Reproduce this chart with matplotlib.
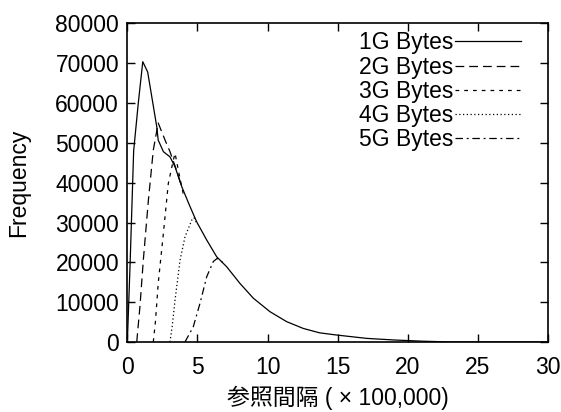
import matplotlib
matplotlib.use("Agg")
import matplotlib.pyplot as plt

plt.rcParams['font.family'] = ['Liberation Sans', 'Noto Sans CJK JP']

# data (x in units of 100,000)
x_1g = [0, 0.2, 0.45, 0.78, 1.1, 1.45, 2.1, 2.2, 2.57, 3.04, 3.4, 3.88, 4.47,
        4.94, 5.66, 6.37, 7.08, 8.03, 8.98, 10.17, 11.36, 12.54, 13.7, 14.9,
        17.06, 19.0, 21.0, 23.0, 30.0]
y_1g = [0, 20000, 48000, 60000, 70400, 67800, 54000, 50700, 47800, 46500,
        44000, 39000, 34000, 30200, 25600, 21400, 18900, 14700, 11000, 7600,
        5100, 3400, 2300, 1750, 900, 500, 200, 0, 0]

x_2g = [0.67, 0.9, 1.14, 1.5, 1.85, 2.2, 2.69, 3.04, 3.5, 3.88]
y_2g = [0, 9000, 20600, 35600, 48200, 55000, 50700, 47800, 43200, 39000]

x_3g = [1.85, 2.0, 2.2, 2.57, 2.92, 3.28, 3.4, 3.7, 4.0]
y_3g = [0, 5000, 14700, 27300, 39800, 45700, 47400, 42000, 37000]

x_4g = [3.04, 3.2, 3.4, 3.76, 4.11, 4.59, 4.75, 5.0]
y_4g = [0, 4000, 10500, 20600, 26400, 30600, 31200, 29500]

x_5g = [4.11, 4.7, 5.18, 5.66, 6.13, 6.41, 6.8]
y_5g = [0, 3800, 9700, 16400, 20200, 21000, 20000]

labels = ['1G Bytes', '2G Bytes', '3G Bytes', '4G Bytes', '5G Bytes']
x_ticks = [0, 5, 10, 15, 20, 25, 30]
y_ticks = [0, 10000, 20000, 30000, 40000, 50000, 60000, 70000, 80000]


def main():
    fig = plt.figure(figsize=(5.61, 4.12), dpi=100)
    ax = fig.add_axes([0.227, 0.170, 0.750, 0.773])

    lw = 0.9
    ax.plot(x_1g, y_1g, color='black', lw=lw, linestyle='-', label=labels[0])
    ax.plot(x_2g, y_2g, color='black', lw=lw, linestyle=(0, (7, 4)), label=labels[1])
    ax.plot(x_3g, y_3g, color='black', lw=lw, linestyle=(0, (3, 4)), label=labels[2])
    ax.plot(x_4g, y_4g, color='black', lw=lw, linestyle=(0, (1, 2)), label=labels[3])
    ax.plot(x_5g, y_5g, color='black', lw=lw, linestyle=(0, (6, 3, 1.5, 3)), label=labels[4])

    ax.set_xlim(0, 30)
    ax.set_ylim(0, 80000)
    ax.set_xticks(x_ticks)
    ax.set_yticks(y_ticks)
    ax.tick_params(direction='in', top=True, right=True, length=6, width=1,
                   labelsize=16.5)
    ax.tick_params(axis='x', pad=10)
    ax.tick_params(axis='y', pad=6)
    for s in ax.spines.values():
        s.set_linewidth(1.2)

    ax.set_xlabel('参照間隔 ( × 100,000)', fontsize=16.5, labelpad=5)
    ax.set_ylabel('Frequency', fontsize=16.5, labelpad=18)

    leg = ax.legend(loc='upper right', frameon=False, markerfirst=False,
                    fontsize=16.5, handlelength=2.9, handletextpad=0.05,
                    labelspacing=0.05, borderaxespad=0.0, borderpad=0.0,
                    bbox_to_anchor=(0.936, 0.975))
    for t in leg.get_texts():
        t.set_ha('right')

    fig.savefig('out.png', dpi=100)


if __name__ == "__main__":
    main()
